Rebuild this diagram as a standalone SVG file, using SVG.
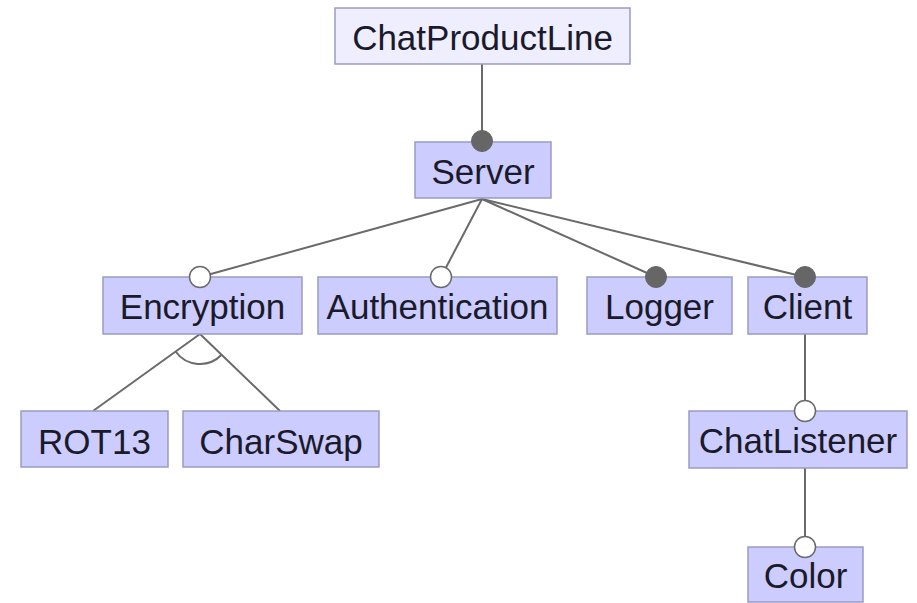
<svg xmlns="http://www.w3.org/2000/svg" width="917" height="603" viewBox="0 0 917 603">
<style>
.box{fill:#ccccff;stroke:#9a9ac4;stroke-width:1.5}
.root{fill:#eeeeff;stroke:#9a9ac4;stroke-width:1.5}
.lbl{font-family:"Liberation Sans",Arial,sans-serif;font-size:35px;fill:#1a1a2a;text-anchor:middle}
.ln{stroke:#6a6a6a;stroke-width:2;fill:none}
.opt{fill:#ffffff;stroke:#6a6a6a;stroke-width:1.5}
.man{fill:#666666;stroke:#666666;stroke-width:1}
</style>
<rect width="917" height="603" fill="#ffffff"/>
<g id="connectors">
<line class="ln" x1="482" y1="64" x2="482" y2="140"/>
<line class="ln" x1="482" y1="199" x2="200" y2="277"/>
<line class="ln" x1="482" y1="199" x2="441" y2="277"/>
<line class="ln" x1="482" y1="199" x2="656" y2="277"/>
<line class="ln" x1="482" y1="199" x2="805" y2="277"/>
<line class="ln" x1="200" y1="334" x2="93" y2="411"/>
<line class="ln" x1="200" y1="334" x2="280" y2="411"/>
<path class="ln" d="M175.6,351.5 A30,30 0 0,0 221.6,354.8"/>
<line class="ln" x1="805" y1="334" x2="805" y2="411"/>
<line class="ln" x1="805" y1="468" x2="805" y2="547"/>
</g>
<g id="ChatProductLine"><rect class="root" x="335" y="8" width="295" height="56"/><text class="lbl" x="482.5" y="50">ChatProductLine</text></g>
<g id="Server"><rect class="box" x="415" y="142" width="136" height="56"/><text class="lbl" x="483" y="184">Server</text><circle class="man" cx="482" cy="141" r="10.5"/></g>
<g id="Encryption"><rect class="box" x="103" y="277" width="199" height="57"/><text class="lbl" x="202.5" y="319">Encryption</text><circle class="opt" cx="200" cy="277" r="10.5"/></g>
<g id="Authentication"><rect class="box" x="318" y="277" width="239" height="57"/><text class="lbl" x="437.5" y="319">Authentication</text><circle class="opt" cx="441" cy="277" r="10.5"/></g>
<g id="Logger"><rect class="box" x="587" y="277" width="145" height="57"/><text class="lbl" x="659.5" y="319">Logger</text><circle class="man" cx="656" cy="277" r="10.5"/></g>
<g id="Client"><rect class="box" x="748" y="277" width="119" height="57"/><text class="lbl" x="807.5" y="319">Client</text><circle class="man" cx="805" cy="277" r="10.5"/></g>
<g id="ROT13"><rect class="box" x="21" y="411" width="147" height="56"/><text class="lbl" x="94.5" y="454">ROT13</text></g>
<g id="CharSwap"><rect class="box" x="183" y="411" width="196" height="56"/><text class="lbl" x="281" y="454">CharSwap</text></g>
<g id="ChatListener"><rect class="box" x="689" y="411" width="218" height="57"/><text class="lbl" x="798" y="453">ChatListener</text><circle class="opt" cx="805" cy="411" r="10.5"/></g>
<g id="Color"><rect class="box" x="748" y="547" width="115" height="55"/><text class="lbl" x="805.5" y="588">Color</text><circle class="opt" cx="805" cy="547" r="10.5"/></g>
</svg>
